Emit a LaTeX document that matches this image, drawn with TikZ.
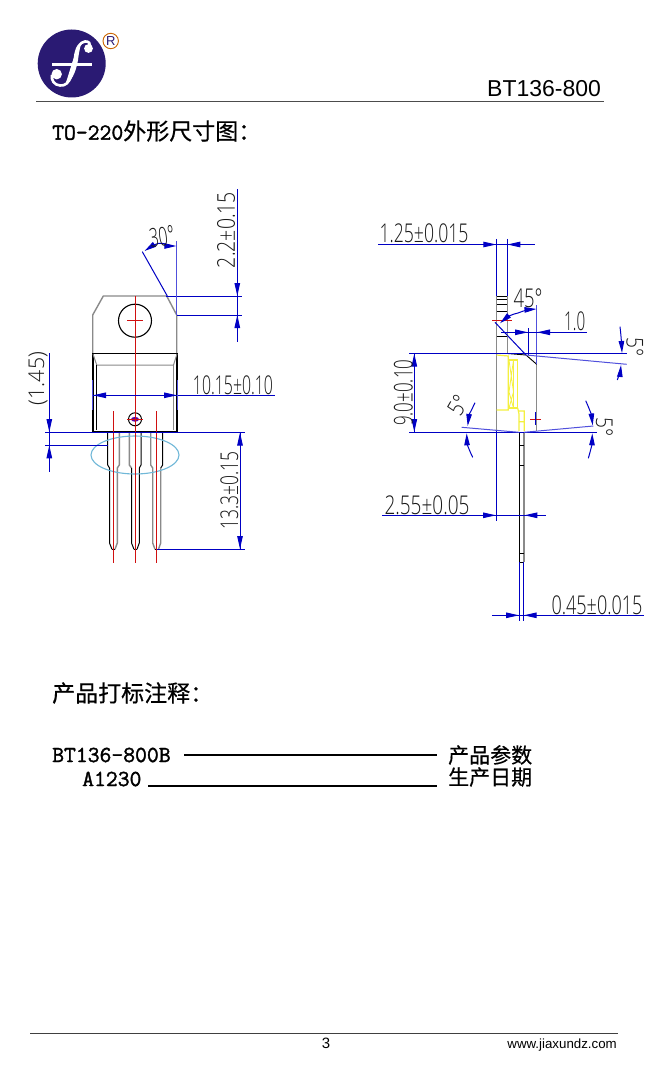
\documentclass[tikz,border=0pt]{standalone}
\usepackage{graphicx}
\usepackage{fontspec}
\usetikzlibrary{arrows.meta}
\setmainfont{Liberation Sans}
\newfontfamily\cadf[UprightFont={* Light}]{Open Sans}
\newfontfamily\cjk[FakeBold=0.5]{Noto Sans CJK SC}
\newfontfamily\monof[FakeBold=1.6]{Latin Modern Mono}
\newcommand{\cadt}[3]{\resizebox*{#1pt}{#2pt}{\cadf #3}}
\newcommand{\dgr}{\char"00B0 }
\definecolor{dimb}{HTML}{0000C4}
\definecolor{dimc}{HTML}{5050DC}
\definecolor{redl}{HTML}{D01010}
\definecolor{gr}{HTML}{8A8A8A}
\definecolor{yel}{HTML}{F4F040}
\definecolor{logo}{HTML}{2A1A73}
\definecolor{ellc}{HTML}{70B8D8}
\tikzset{
 dim/.style={draw=dimb,line width=1pt},
 dimlt/.style={draw=dimc,line width=1pt},
 arr/.style={draw=dimb,line width=1pt,-{Stealth[length=13pt,width=5.5pt,inset=0pt,fill=dimb]}},
 arc1/.style={draw=dimb,line width=1pt,-{Stealth[length=12pt,width=5.5pt,inset=0pt,fill=dimb]}},
 outl/.style={draw=black,line width=1pt},
 out2/.style={draw=black,line width=1.6pt},
 grl/.style={draw=gr,line width=1.4pt},
 redc/.style={draw=redl,line width=1.4pt},
 yell/.style={draw=yel,line width=1.2pt},
 txt/.style={inner sep=0pt,text=black!90},
 head/.style={inner sep=0pt,anchor=west,text=black},
}
\begin{document}
\begin{tikzpicture}[x=1pt,y=-1pt]
\useasboundingbox (0,0) rectangle (663,1075);
\fill[white] (0,0) rectangle (663,1075);
% logo
\fill[logo] (71.7,63.5) circle (34);
\draw[white,line width=2.6pt] (88.5,49) .. controls (92,43) and (88,41) .. (85,41.5) .. controls (80,42) and (76,48) .. (75,58) -- (71,76) .. controls (69,83) and (65,86) .. (60,85.5) .. controls (54,85) and (51,80) .. (52,75);
\fill[white] (81,44) .. controls (74,52) and (70,72) .. (65,85) .. controls (74,80) and (77,66) .. (78,60) .. controls (79,52) and (80,48) .. (81,44);
\draw[white,line width=2.5pt] (52.3,64.3) -- (91.7,64.3);
\fill[white] (88.5,48.5) circle (4.4) (56.7,74.2) circle (5.2);
\draw[draw=orange!80!black,line width=0.9pt] (110.7,41) circle (7.7);
\node[inner sep=0pt,text=logo] (regmark) at (110.7,41) {\fontsize{13}{13}\selectfont R};
\node[inner sep=0pt,anchor=base west,text=black] (partno) at (487,97) {\fontsize{23}{23}\selectfont BT136-800};
\draw[draw=black!70,line width=0.8pt] (36,101) -- (604,101);
% title
\node[head] (title) at (52,131) {\fontsize{23}{23}\selectfont\monof TO-220\cjk 外形尺寸图：};
% ---------- left view
\draw[grl] (92.7,353) -- (92.7,315) -- (103.3,296) -- (166.7,296) -- (176.7,315) -- (176.7,353);
\draw[outl,line width=1.1pt] (135,320.7) circle (16.5);
\draw[out2] (92.7,432) -- (92.7,353.3) -- (177,353.3) -- (177,432);
\draw[out2] (92.7,432) -- (177,432);
\draw[grl,line width=1pt] (93,354) -- (96.7,365) -- (173.5,365) -- (177,354);
\draw[grl,line width=1pt] (96.7,365) -- (96.7,430) (173.5,365) -- (173.5,430);
\draw[outl] (96.7,365) -- (96.7,430);
\draw[outl] (135,419.3) circle (6.5);
\fill[violet!70!blue] (135,419.3) ellipse (4 and 2.4);
% leads
\draw[outl] (107.7,433) -- (107.7,465) -- (109.5,468) -- (109.5,543) -- (112,549.3);
\draw[grl] (119.3,433) -- (119.3,465) -- (117.3,468) -- (117.3,543) -- (115,549.3);
\draw[grl] (129.3,433) -- (129.3,465) -- (131.5,468);
\draw[outl] (131.5,468) -- (131.5,543) -- (134,549.3);
\draw[outl] (141,433) -- (141,465) -- (139.3,468) -- (139.3,543) -- (137,549.3);
\draw[grl] (150.7,433) -- (150.7,465) -- (152.7,468) -- (152.7,543) -- (155,549.3);
\draw[outl] (162.7,433) -- (162.7,465) -- (160.7,468);
\draw[grl] (160.7,468) -- (160.7,543) -- (158.5,549.3);
\draw[draw=black,line width=0.7pt] (112,549.3) -- (115,549.3) (134,549.3) -- (137,549.3) (155,549.3) -- (158.5,549.3);
\draw[draw=ellc,line width=1.1pt] (135,455) ellipse (44 and 19);
% red centre lines
\draw[redc] (135.3,296) -- (135.3,562.7) (127,320.7) -- (143,320.7) (127,419.3) -- (143,419.3);
\draw[redc] (113.3,411) -- (113.3,562.7) (156.3,411) -- (156.3,562.7);
% dimensions left
\draw[dim] (237.3,189.3) -- (237.3,341.7) (166,296.3) -- (241.7,296.3) (177,315) -- (241.7,315);
\draw[arr] (237.3,283) -- (237.3,296);
\draw[arr] (237.3,328) -- (237.3,315);
\node[txt,rotate=90] (d22) at (226,230) {\cadt{76}{18}{2.2±0.15}};
\draw[dimc,line width=0.9pt] (176.7,241) -- (176.7,315);
\draw[dim] (142.3,251.7) -- (167.3,296);
\draw[arc1] (158,243.5) .. controls (153,245) and (149,248) .. (144.5,251);
\draw[arc1] (158,243.5) .. controls (164,242) and (170,246) .. (176.3,246);
\node[txt,rotate=8] (d30) at (162,236.5) {\cadt{25}{19}{30\dgr}};
\draw[dim] (92.7,395.3) -- (275,395.3);
\draw[dimc,line width=0.9pt] (92.7,380) -- (92.7,410) (177,380) -- (177,410);
\draw[arr] (106,395.3) -- (93,395.3);
\draw[arr] (164,395.3) -- (177,395.3);
\node[txt] (d1015) at (233,385) {\cadt{80}{19}{10.15±0.10}};
\draw[dim] (49.3,353) -- (49.3,471.7) (45,432.3) -- (245,432.3) (45,445) -- (107.7,445);
\draw[arr] (49.3,419) -- (49.3,432);
\draw[arr] (49.3,458) -- (49.3,445.3);
\node[txt,rotate=90] (d145) at (38,378.5) {\cadt{53}{19}{(1.45)}};
\draw[dim] (240,432.3) -- (240,549.3) (157,549.3) -- (245,549.3);
\draw[arr] (240,445.5) -- (240,432.5);
\draw[arr] (240,536) -- (240,549);
\node[txt,rotate=90] (d133) at (229.3,490.7) {\cadt{78}{18}{13.3±0.15}};
% ---------- right view
\draw[grl] (496.5,296) -- (496.5,431) (507.3,296) -- (507.3,353) (536.7,364) -- (536.7,431);
\draw[draw=black,line width=0.9pt] (496.5,296) -- (507.3,296) (496.5,299.5) -- (507.3,299.5) (496.5,304.3) -- (507.3,304.3) (496.5,311.7) -- (507.3,311.7) (496.5,336.7) -- (507.3,336.7);
\draw[draw=black,line width=0.9pt] (507.3,353.5) -- (526,355) (526,355) -- (536.7,364.3);
% yellow
\draw[yell] (496.7,355) -- (508.3,356) -- (508.3,410) -- (496.7,410);
\draw[yell] (508.3,360) -- (517.7,360) -- (517.7,408) -- (508.3,408);
\draw[yell] (513.5,360) -- (513.5,408);
\draw[yell,line width=0.8pt] (509,360) -- (513.5,392) -- (509,408) (513.5,360) -- (509,392) -- (513.5,408);
\draw[yell] (517.7,408) -- (519,414) -- (519,431) (519,411) -- (524.3,411) -- (524.3,431) (519,421.7) -- (524.3,421.7);
% lead side
\draw[draw=black,line width=1pt] (519,433) -- (519,562.3);
\draw[grl] (524,433) -- (524,562.3);
\draw[draw=black,line width=0.8pt] (519,445.3) -- (524,445.3) (519,465.7) -- (524,465.7) (519,553.3) -- (524,553.3) (519,562.3) -- (524,562.3);
% red & small mark
\draw[redc,line width=1pt] (492.3,320) -- (511.7,320) (530,419.3) -- (540.7,419.3) (535.5,414) -- (535.5,424);
\draw[dim] (535.7,412) -- (535.7,425);
% dims right
\draw[dim] (378.3,244.5) -- (535,244.5) (496.3,239) -- (496.3,296) (507.3,239) -- (507.3,296);
\draw[arr] (483.3,244.5) -- (496.3,244.5);
\draw[arr] (520.3,244.5) -- (507.3,244.5);
\node[txt] (d125) at (424,233) {\cadt{89}{19}{1.25±0.015}};
\draw[dim] (495,322.3) -- (526,355);
\draw[dimc,line width=0.9pt] (536.7,305) -- (536.7,364);
\draw[dim] (528.3,328) -- (528.3,355);
\draw[arc1] (518,313) .. controls (512,314) and (506,318) .. (500,323.3);
\draw[arc1] (518,313) .. controls (524,310.5) and (530,309.5) .. (536.5,309);
\node[txt] (d45) at (528,298.5) {\cadt{29}{19}{45\dgr}};
\draw[dim] (501,332.3) -- (586.7,332.3);
\draw[arr] (515,332.3) -- (528,332.3);
\draw[arr] (550,332.3) -- (537,332.3);
\node[txt] (d10) at (574.7,321.5) {\cadt{21}{19}{1.0}};
\draw[dim] (409.3,353.3) -- (627.3,353.3);
\draw[dimlt] (526,355) -- (626.7,364.3);
\draw[arc1] (620,326.7) .. controls (621,335) and (621.5,343) .. (622,353);
\draw[arc1] (617.3,380) .. controls (619,375) and (620.5,370) .. (621,365);
\node[txt,rotate=-90] (d5a) at (635,346.7) {\cadt{19}{17}{5\dgr}};
\draw[dim] (414.3,353.3) -- (414.3,432.3);
\draw[arr] (414.3,366) -- (414.3,353.6);
\draw[arr] (414.3,419.5) -- (414.3,432);
\node[txt,rotate=90] (d90) at (403.3,392.7) {\cadt{66}{19}{9.0±0.10}};
\draw[dim] (409.3,432.3) -- (597.3,432.3);
\draw[dimlt] (461.7,427.3) -- (519,432.3) (524,432.3) -- (593.3,426);
\draw[arc1] (475,402.7) .. controls (472,409) and (469,415) .. (467.7,426);
\draw[arc1] (472.7,457.3) .. controls (469,450) and (467,443) .. (466.7,433.3);
\node[txt,rotate=60] (d5b) at (458,405.5) {\cadt{19}{17}{5\dgr}};
\draw[arc1] (585.7,400.7) .. controls (589,408) and (591.5,415) .. (592.7,425.5);
\draw[arc1] (588.3,458.3) .. controls (590.5,451) and (592,444) .. (592.3,433.3);
\node[txt,rotate=-90] (d5c) at (604.5,426.7) {\cadt{19}{17}{5\dgr}};
\draw[dim] (496.3,431) -- (496.3,520.7) (382.3,515.3) -- (545.7,515.3);
\draw[arr] (483,515.3) -- (496,515.3);
\draw[arr] (537,515.3) -- (524.3,515.3);
\node[txt] (d255) at (427,505) {\cadt{85}{19}{2.55±0.05}};
\draw[dim] (519,562) -- (519,620.7) (523.7,562) -- (523.7,620.7) (492.3,615.3) -- (644,615.3);
\draw[arr] (506,615.3) -- (519,615.3);
\draw[arr] (536.7,615.3) -- (523.7,615.3);
\node[txt] (d045) at (597,605) {\cadt{91}{19}{0.45±0.015}};
% ---------- marking
\node[head] (marktitle) at (52,693) {\fontsize{23}{23}\selectfont\cjk 产品打标注释：};
\node[head] (m1) at (52,755) {\fontsize{23}{23}\selectfont\monof BT136-800B};
\node[head] (m2) at (82,779) {\fontsize{23}{23}\selectfont\monof A1230};
\node[head] (m3) at (448,755) {\fontsize{21}{21}\selectfont\cjk 产品参数};
\node[head] (m4) at (448,777) {\fontsize{21}{21}\selectfont\cjk 生产日期};
\draw[draw=black,line width=1.9pt] (184,755) -- (436.7,755);
\draw[draw=black,line width=1.9pt] (148.3,785.7) -- (436.7,785.7);
% footer
\draw[draw=black!75,line width=0.8pt] (30,1033) -- (618,1033);
\node[inner sep=0pt,text=black] (pg) at (326,1043) {\fontsize{15}{15}\selectfont 3};
\node[inner sep=0pt,anchor=base east,text=black] (web) at (617,1048) {\fontsize{13.3}{14}\selectfont www.jiaxundz.com};
\end{tikzpicture}
\end{document}
